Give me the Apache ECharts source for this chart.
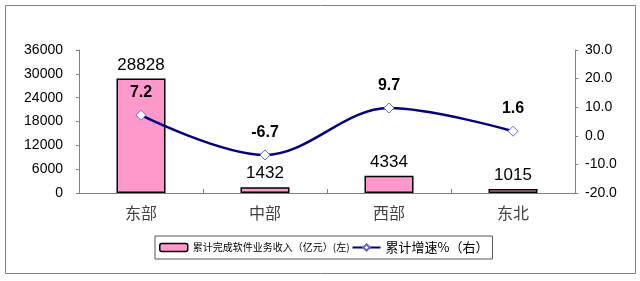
<!DOCTYPE html>
<html><head><meta charset="utf-8">
<script src="https://cdn.jsdelivr.net/npm/echarts@6/dist/echarts.min.js"></script>
<style>html,body{margin:0;padding:0;background:#fff}#c{width:640px;height:281px}</style>
</head><body><div id="c"></div>
<script>
const categories = ['东部', '中部', '西部', '东北'];
const revenue = [28828, 1432, 4334, 1015];
const growth = [7.2, -6.7, 9.7, 1.6];
const barName = '累计完成软件业务收入（亿元）(左)';
const lineName = '累计增速%（右）';

const chart = echarts.init(document.getElementById('c'));
const font = 'Liberation Sans, Arial, Noto Sans CJK SC, sans-serif';
chart.setOption({
  animation: false,
  textStyle: { fontFamily: font },
  graphic: [{ type: 'rect', shape: { x: 5.5, y: 5.5, width: 630, height: 268 }, style: { fill: 'none', stroke: '#808080', lineWidth: 1 } }],
  grid: { left: 79, right: 65, top: 50, bottom: 88 },
  legend: {
    left: 155, top: 236,
    orient: 'horizontal',
    borderColor: '#555', borderWidth: 1, padding: [5, 4, 5, 4],
    itemGap: 2, itemWidth: 28, itemHeight: 8,
    textStyle: { color: '#000', fontFamily: 'Noto Sans CJK SC, sans-serif' },
    data: [
      { name: barName, textStyle: { fontSize: 10 }, itemStyle: { color: '#FF99CC', borderColor: '#000', borderWidth: 1.5 } },
      { name: lineName, textStyle: { fontSize: 13 } }
    ]
  },
  xAxis: {
    type: 'category', data: categories,
    axisLine: { lineStyle: { color: '#808080', width: 1 } },
    axisTick: { show: true, alignWithLabel: false, inside: true, length: 4, lineStyle: { color: '#808080' } },
    axisLabel: { color: '#444', fontSize: 16, margin: 12, fontFamily: 'Noto Sans CJK SC, sans-serif' }
  },
  yAxis: [
    {
      type: 'value', min: 0, max: 36000, interval: 6000,
      axisLine: { show: true, lineStyle: { color: '#808080' } },
      axisTick: { show: true, length: 3, lineStyle: { color: '#808080' } },
      splitLine: { show: false },
      axisLabel: { color: '#000', fontSize: 14, margin: 16, formatter: v => String(v) }
    },
    {
      type: 'value', min: -20, max: 30, interval: 10,
      axisLine: { show: true, lineStyle: { color: '#808080' } },
      axisTick: { show: true, length: 3, lineStyle: { color: '#808080' } },
      splitLine: { show: false },
      axisLabel: { color: '#000', fontSize: 14, margin: 10, formatter: v => v.toFixed(1) }
    }
  ],
  series: [
    {
      name: barName, type: 'bar', data: revenue, barWidth: 49, yAxisIndex: 0,
      itemStyle: { color: '#FF99CC', borderColor: '#000', borderWidth: 1.5 },
      label: { show: true, position: 'top', distance: 5, color: '#000', fontSize: 17 }
    },
    {
      name: lineName, type: 'line', data: growth, yAxisIndex: 1, smooth: 0.35,
      lineStyle: { color: '#000080', width: 2.5 },
      itemStyle: { color: '#fff', borderColor: '#6666cc', borderWidth: 1 },
      symbol: 'diamond', symbolSize: 10,
      label: { show: true, position: 'top', distance: 9, color: '#000', fontSize: 16, fontWeight: 'bold' }
    }
  ]
});
</script></body></html>
